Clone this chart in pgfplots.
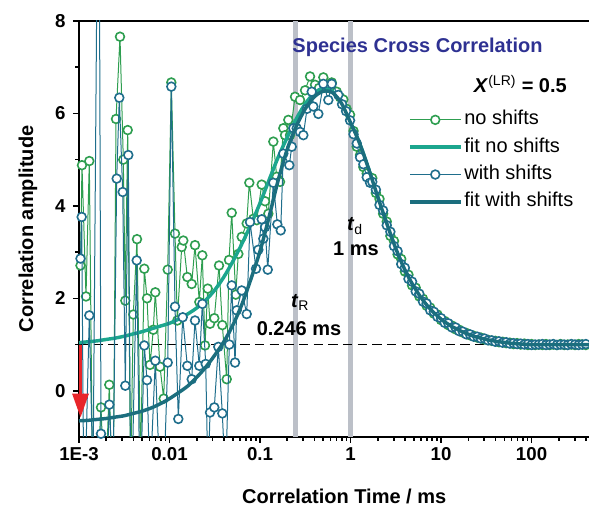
\documentclass[border=0pt]{standalone}
\usepackage{pgfplots}
\pgfplotsset{compat=1.18}
\usetikzlibrary{arrows.meta}
\usepackage{fontspec}
\setmainfont{Liberation Sans}
\definecolor{cgreen}{RGB}{46,158,80}
\definecolor{cfitg}{RGB}{28,166,142}
\definecolor{cblue}{RGB}{31,110,140}
\definecolor{cfitb}{RGB}{27,110,126}
\definecolor{ctitle}{RGB}{46,49,146}
\definecolor{cband}{RGB}{188,192,200}
\definecolor{cred}{RGB}{232,38,42}
\begin{document}
\begin{tikzpicture}
\begin{axis}[
 scale only axis, width=382.5pt, height=312pt,
 xmode=log, xmin=1e-3, xmax=431, ymin=-1, ymax=8,
 clip mode=individual,
 axis x line=box, axis y line=left,
 axis line style={-, line width=1.5pt, black},
 xtick pos=bottom, ytick pos=left, tick align=outside,
 major tick length=4.5pt, minor tick length=2.8pt,
 tick style={black, line width=1.2pt},
 xtick={0.001,0.01,0.1,1,10,100}, xticklabels={1E-3,0.01,0.1,1,10,100},
 minor xtick={0.002,0.003,0.004,0.005,0.006,0.007,0.008,0.009,
  0.02,0.03,0.04,0.05,0.06,0.07,0.08,0.09,
  0.2,0.3,0.4,0.5,0.6,0.7,0.8,0.9,
  2,3,4,5,6,7,8,9,20,30,40,50,60,70,80,90,200,300,400},
 ytick={0,2,4,6,8}, yticklabels={0,2,4,6,8}, minor ytick={1,3,5,7},
 ticklabel style={font=\fontsize{14}{16}\selectfont\bfseries},
 yticklabel style={xshift=-2pt},
 xlabel={Correlation Time / ms}, ylabel={Correlation amplitude},
 xlabel style={font=\fontsize{15}{18}\selectfont\bfseries, at={(axis description cs:0.52,-0.144)}, anchor=center},
 ylabel style={font=\fontsize{15}{18}\selectfont\bfseries, at={(axis description cs:-0.1,0.5)}, anchor=center, rotate=0},
 legend style={at={(0.645,0.791)}, anchor=north west, draw=none, fill=none,
   font=\fontsize{15}{18}\selectfont, row sep=3pt, inner sep=0pt,
   nodes={inner sep=1.5pt, text height=11pt, text depth=3.5pt}, cells={anchor=west}},
 legend image code/.code={\draw[mark repeat=2,mark phase=2,#1] plot coordinates {(0pt,0pt) (19pt,0pt) (38pt,0pt)};},
]
\addplot[cband, line width=4.2pt, forget plot] coordinates {(0.246,-1) (0.246,8)};
\addplot[cband, line width=4.2pt, forget plot] coordinates {(1,-1) (1,8)};
\addplot[black, dash pattern=on 7pt off 4pt, line width=1.1pt, forget plot] coordinates {(0.001,1) (431,1)};

\addplot[cgreen, line width=0.75pt, mark=*, mark size=3.3pt, mark options={fill=white, line width=1.2pt, solid}] coordinates {
(1.039e-3,2.71)(1.079e-3,4.88)(1.195e-3,2.04)(1.300e-3,4.97)(1.428e-3,-3.0)(1.580e-3,-2.0)
(1.750e-3,-0.36)(1.938e-3,-2.5)(2.162e-3,0.13)(2.375e-3,-3.0)(2.564e-3,5.88)(2.838e-3,7.66)
(3.087e-3,5.00)(3.248e-3,1.95)(3.452e-3,5.64)(3.708e-3,-2.0)(3.981e-3,1.65)(4.375e-3,3.28)
(4.781e-3,-1.5)(5.267e-3,2.64)(5.641e-3,2.00)(6.088e-3,0.56)(6.622e-3,1.32)(6.967e-3,2.13)
(7.852e-3,0.52)(8.627e-3,-0.17)(9.553e-3,2.62)(1.0469e-2,6.67)(1.1503e-2,3.40)(1.2196e-2,1.52)
(1.3639e-2,3.11)(1.4206e-2,3.25)(1.573e-2,2.46)(1.759e-2,2.31)(1.913e-2,3.15)(2.135e-2,1.92)
(2.304e-2,2.93)(2.468e-2,0.98)(2.643e-2,2.21)(2.803e-2,1.45)(3.126e-2,1.57)(3.524e-2,2.71)
(3.832e-2,1.42)(4.285e-2,0.25)(4.544e-2,2.83)(4.868e-2,3.85)(5.390e-2,2.08)(5.757e-2,2.96)
(6.278e-2,3.33)(7.129e-2,3.62)(7.616e-2,4.50)(8.433e-2,3.72)(9.194e-2,3.69)(0.1044,4.46)
(0.1136,4.10)(0.1235,3.83)(0.1403,5.39)(0.1529,4.63)(0.1663,4.52)(0.1809,5.68)(0.1889,5.53)
(0.2054,5.86)(0.2145,5.53)(0.2436,6.36)(0.2767,6.29)(0.3143,6.50)(0.3569,6.80)(0.4054,6.62)
(0.4487,6.55)(0.5005,6.78)(0.5499,6.60)(0.6198,6.67)(0.7039,6.47)(0.7656,6.35)(0.8327,6.30)
(0.9032,6.10)(0.9874,5.97)(1.0792,5.62)(1.1709,5.28)(1.2735,5.10)(1.3853,4.84)(1.5101,4.70)
(1.6427,4.56)(1.738,4.60)(1.905,4.28)(2.089,4.15)(2.291,3.83)(2.512,3.66)(2.754,3.35)
(3.020,3.24)(3.311,2.95)(3.631,2.85)(3.981,2.58)(4.365,2.51)(4.786,2.28)(5.248,2.23)
(5.754,2.04)(6.310,1.99)(6.918,1.84)(7.586,1.80)(8.318,1.67)(9.120,1.65)(10,1.53)
(10.96,1.51)(12.02,1.42)(13.18,1.41)(14.45,1.33)(15.85,1.32)(17.38,1.26)(19.05,1.25)
(20.89,1.20)(22.91,1.19)(25.12,1.15)(27.54,1.15)(30.20,1.11)(33.11,1.10)(36.31,1.08)
(39.81,1.08)(43.65,1.05)(47.86,1.06)(52.48,1.03)(57.54,1.04)(63.10,1.01)(69.18,1.03)
(75.86,1.00)(83.18,1.02)(91.20,0.99)(100,1.01)(109.6,0.99)(120.2,1.00)(131.8,0.99)
(144.5,1.01)(158.5,0.99)(173.8,1.00)(190.5,0.99)(208.9,1.01)(229.1,0.99)(251.2,1.00)
(275.4,1.00)(302.0,0.99)(331.1,1.01)(363.1,1.00)(398.1,0.99)(436.5,1.00)};
\addlegendentry{no shifts}

\addplot[cfitg, line width=2.6pt, smooth] coordinates {
(0.001,1.04)(0.001259,1.06)(0.001585,1.08)(0.001995,1.11)(0.002512,1.14)(0.003162,1.18)
(0.003981,1.23)(0.005012,1.28)(0.006310,1.34)(0.007943,1.40)(0.01,1.46)(0.01259,1.55)
(0.01585,1.66)(0.01995,1.79)(0.02512,1.96)(0.03162,2.18)(0.03981,2.46)(0.05012,2.80)
(0.06310,3.18)(0.07943,3.60)(0.1,4.06)(0.1259,4.56)(0.1585,5.05)(0.1995,5.48)(0.2512,5.88)
(0.3162,6.21)(0.3981,6.44)(0.5012,6.55)(0.6310,6.48)(0.7943,6.22)(1,5.80)(1.096,5.63)
(1.202,5.45)(1.318,5.25)(1.445,5.03)(1.585,4.80)(1.738,4.56)(1.905,4.32)(2.089,4.08)
(2.291,3.85)(2.512,3.62)(2.754,3.40)(3.020,3.18)(3.311,2.98)(3.631,2.79)(3.981,2.62)
(4.365,2.46)(4.786,2.32)(5.248,2.19)(5.754,2.07)(6.310,1.96)(6.918,1.86)(7.586,1.77)
(8.318,1.69)(9.120,1.62)(10,1.55)(10.96,1.49)(12.02,1.44)(13.18,1.39)(14.45,1.35)
(15.85,1.31)(17.38,1.27)(19.05,1.24)(20.89,1.21)(22.91,1.18)(25.12,1.16)(27.54,1.14)
(30.20,1.12)(33.11,1.10)(36.31,1.09)(39.81,1.07)(43.65,1.06)(47.86,1.05)(52.48,1.04)
(57.54,1.03)(63.10,1.02)(69.18,1.02)(75.86,1.01)(83.18,1.01)(91.20,1.00)(100,1.00)
(158.5,1.00)(251.2,1.00)(436.5,1.00)};
\addlegendentry{fit no shifts}

\addplot[cblue, line width=0.75pt, mark=*, mark size=3.3pt, mark options={fill=white, line width=1.2pt, solid}] coordinates {
(1.039e-3,2.86)(1.071e-3,3.76)(1.136e-3,-3.0)(1.300e-3,1.63)(1.428e-3,-2.0)(1.651e-3,14.0)
(1.750e-3,-0.93)(1.938e-3,-3.0)(2.162e-3,-0.30)(2.375e-3,-2.0)(2.610e-3,4.59)(2.788e-3,6.34)
(3.040e-3,4.30)(3.248e-3,0.11)(3.506e-3,5.10)(3.754e-3,-3.0)(4.342e-3,2.82)(4.721e-3,-2.5)
(5.267e-3,0.98)(5.641e-3,0.23)(6.088e-3,-2.0)(6.967e-3,0.65)(7.656e-3,-1.5)(8.476e-3,-2.5)
(9.553e-3,0.61)(1.0469e-2,6.58)(1.1503e-2,1.82)(1.2509e-2,-0.61)(1.3991e-2,1.59)(1.573e-2,0.54)
(1.759e-2,0.25)(1.913e-2,1.52)(2.135e-2,0.54)(2.304e-2,1.88)(2.512e-2,0.58)(2.663e-2,-2.0)
(2.803e-2,-0.47)(3.126e-2,-0.36)(3.461e-2,0.95)(3.832e-2,-0.49)(4.157e-2,-2.0)(4.579e-2,1.00)
(4.868e-2,2.28)(5.295e-2,0.61)(5.528e-2,1.74)(6.278e-2,2.17)(7.129e-2,1.66)(7.752e-2,3.65)
(9.032e-2,2.64)(9.577e-2,3.05)(0.1044,3.71)(0.1088,3.29)(0.1136,3.54)(0.1217,2.62)
(0.1403,4.50)(0.1553,3.60)(0.1693,3.47)(0.1809,5.13)(0.2107,4.88)(0.2240,5.28)(0.2333,5.68)
(0.2544,5.68)(0.2767,5.60)(0.3010,5.53)(0.3306,6.10)(0.3726,6.47)(0.3882,6.15)(0.4408,5.99)
(0.5005,6.64)(0.5684,6.29)(0.6198,6.64)(0.7331,6.40)(0.8055,6.20)(0.8920,6.05)(0.9874,5.85)
(1.0792,5.55)(1.1709,5.35)(1.2735,5.05)(1.3853,4.90)(1.5101,4.62)(1.6427,4.50)
(1.738,4.52)(1.905,4.35)(2.089,4.02)(2.291,3.90)(2.512,3.58)(2.754,3.44)(3.020,3.13)
(3.311,3.02)(3.631,2.74)(3.981,2.66)(4.365,2.42)(4.786,2.36)(5.248,2.15)(5.754,2.10)
(6.310,1.93)(6.918,1.89)(7.586,1.74)(8.318,1.71)(9.120,1.60)(10,1.57)(10.96,1.47)
(12.02,1.46)(13.18,1.37)(14.45,1.37)(15.85,1.29)(17.38,1.28)(19.05,1.22)(20.89,1.22)
(22.91,1.17)(25.12,1.17)(27.54,1.13)(30.20,1.13)(33.11,1.09)(36.31,1.09)(39.81,1.06)
(43.65,1.07)(47.86,1.04)(52.48,1.05)(57.54,1.02)(63.10,1.03)(69.18,1.01)(75.86,1.02)
(83.18,1.00)(91.20,1.01)(100,0.99)(109.6,1.00)(120.2,1.00)(131.8,1.01)(144.5,0.99)
(158.5,1.00)(173.8,1.01)(190.5,0.99)(208.9,1.00)(229.1,1.00)(251.2,0.99)(275.4,1.01)
(302.0,1.00)(331.1,0.99)(363.1,1.00)(398.1,1.01)(436.5,1.00)};
\addlegendentry{with shifts}

\addplot[cfitb, line width=2.6pt, smooth] coordinates {
(0.001,-0.65)(0.001259,-0.64)(0.001585,-0.62)(0.001995,-0.60)(0.002512,-0.57)(0.003162,-0.54)
(0.003981,-0.49)(0.005012,-0.44)(0.006310,-0.37)(0.007943,-0.28)(0.01,-0.17)(0.01259,-0.04)
(0.01585,0.10)(0.01995,0.29)(0.02512,0.51)(0.03162,0.77)(0.03981,1.06)(0.05012,1.42)
(0.06310,1.87)(0.07943,2.42)(0.1,3.02)(0.1259,3.76)(0.1585,4.55)(0.1995,5.22)(0.2512,5.72)
(0.3162,6.10)(0.3981,6.36)(0.5012,6.48)(0.6310,6.45)(0.7943,6.22)(1,5.80)(1.096,5.63)
(1.202,5.45)(1.318,5.25)(1.445,5.03)(1.585,4.80)(1.738,4.56)(1.905,4.32)(2.089,4.08)
(2.291,3.85)(2.512,3.62)(2.754,3.40)(3.020,3.18)(3.311,2.98)(3.631,2.79)(3.981,2.62)
(4.365,2.46)(4.786,2.32)(5.248,2.19)(5.754,2.07)(6.310,1.96)(6.918,1.86)(7.586,1.77)
(8.318,1.69)(9.120,1.62)(10,1.55)(10.96,1.49)(12.02,1.44)(13.18,1.39)(14.45,1.35)
(15.85,1.31)(17.38,1.27)(19.05,1.24)(20.89,1.21)(22.91,1.18)(25.12,1.16)(27.54,1.14)
(30.20,1.12)(33.11,1.10)(36.31,1.09)(39.81,1.07)(43.65,1.06)(47.86,1.05)(52.48,1.04)
(57.54,1.03)(63.10,1.02)(69.18,1.02)(75.86,1.01)(83.18,1.01)(91.20,1.00)(100,1.00)
(158.5,1.00)(251.2,1.00)(436.5,1.00)};
\addlegendentry{fit with shifts}

\draw[cred, line width=2.4pt, -{Triangle[width=12pt,length=18pt]}] (axis cs:1.04e-3,1) -- (axis cs:1.04e-3,-0.58);
\node[anchor=west, inner sep=0pt, text=ctitle, font=\fontsize{15}{18}\selectfont\bfseries] at (rel axis cs:0.418,0.9375) {Species Cross Correlation};
\node[anchor=east, inner sep=0pt, font=\fontsize{15}{18}\selectfont\bfseries] at (rel axis cs:0.957,0.849) {\textit{X}\textsuperscript{\mdseries(LR)} = 0.5};
\node[inner sep=0pt, font=\fontsize{15}{18}\selectfont\bfseries] at (axis cs:1.12,3.56) {\textit{t}\textsubscript{\mdseries d}};
\node[inner sep=0pt, font=\fontsize{15}{18}\selectfont\bfseries] at (axis cs:1.15,3.08) {1 ms};
\node[inner sep=0pt, font=\fontsize{15}{18}\selectfont\bfseries] at (axis cs:0.277,1.91) {\textit{t}\textsubscript{\mdseries R}};
\node[inner sep=0pt, font=\fontsize{15}{18}\selectfont\bfseries] at (axis cs:0.27,1.345) {0.246 ms};
\end{axis}
\pgfresetboundingbox
\path[use as bounding box] ([xshift=-59.25pt, yshift=-54.75pt]current axis.south west) rectangle ([yshift=15.75pt]current axis.north east);
\end{tikzpicture}
\end{document}
